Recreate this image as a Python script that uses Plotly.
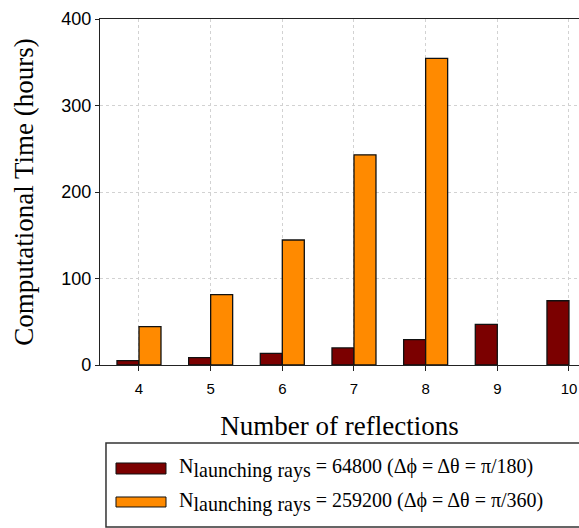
import plotly.graph_objects as go

reflections = [4, 5, 6, 7, 8, 9, 10]
time_64800 = [5, 8.5, 13.5, 19.7, 29.3, 47, 74.3]
time_259200 = [44.3, 81.3, 144.5, 243, 354.5, None, None]
series_names = [
    "N<sub><span style=\"font-size:143%\">launching rays</span></sub> = 64800 (\u0394\u03d5 = \u0394\u03b8 = \u03c0/180)",
    "N<sub><span style=\"font-size:143%\">launching rays</span></sub> = 259200 (\u0394\u03d5 = \u0394\u03b8 = \u03c0/360)",
]
colors = ["#7b0000", "#ff8a00"]
y_ticks = [0, 100, 200, 300, 400]

fig = go.Figure()
for vals, name, col in zip([time_64800, time_259200], series_names, colors):
    fig.add_trace(go.Bar(
        x=reflections, y=vals, name=name,
        marker=dict(color=col, line=dict(color="#111111", width=1.3)),
        showlegend=False,
    ))

fig.update_layout(
    width=579, height=528,
    margin=dict(l=100, r=0, t=19, b=163),
    paper_bgcolor="white", plot_bgcolor="white",
    barmode="group", bargap=0.386, bargroupgap=0,
    font=dict(family="Liberation Sans, Arial", color="black"),
    xaxis=dict(
        range=[3.456, 10.14], tickmode="array", tickvals=reflections,
        ticks="outside", ticklen=5, tickcolor="#222", tickwidth=1,
        ticklabelstandoff=5,
        showline=True, linecolor="#222", linewidth=1.3, mirror=True,
        showgrid=True, gridcolor="#d2d2d2", griddash="dot", gridwidth=1,
        tickfont=dict(size=15, family="Liberation Sans, Arial"),
        title=dict(text="Number of reflections",
                   font=dict(size=27, family="Liberation Serif, Times New Roman"),
                   standoff=19),
        zeroline=False,
    ),
    yaxis=dict(
        range=[0, 400], tickmode="array", tickvals=y_ticks,
        ticks="outside", ticklen=4, tickcolor="#222", tickwidth=1,
        showline=True, linecolor="#222", linewidth=1.3, mirror=False,
        showgrid=True, gridcolor="#d2d2d2", griddash="dot", gridwidth=1,
        tickfont=dict(size=18, family="Liberation Sans, Arial"),
        title=dict(text="Computational Time (hours)",
                   font=dict(size=27, family="Liberation Serif, Times New Roman"),
                   standoff=19),
        zeroline=False,
    ),
)

# custom legend box
fig.add_shape(type="rect", xref="paper", yref="paper",
              x0=0.0125, x1=1.02, y0=-0.468, y1=-0.2254,
              line=dict(color="#333", width=1.5), fillcolor="white", layer="above")
sw_y = [(-0.2832, -0.315), (-0.3815, -0.4104)]
txt_y = [-0.2977, -0.396]
for (ya, yb), ty, name, col in zip(sw_y, txt_y, series_names, colors):
    fig.add_shape(type="rect", xref="paper", yref="paper",
                  x0=0.0334, x1=0.1378, y0=yb, y1=ya,
                  line=dict(color="#111", width=1), fillcolor=col, layer="above")
    fig.add_annotation(xref="paper", yref="paper", x=0.1608, y=ty,
                       xanchor="left", yanchor="middle", showarrow=False,
                       text=name,
                       font=dict(size=20, family="Liberation Serif, Times New Roman", color="black"))

fig.write_html("out.html")
